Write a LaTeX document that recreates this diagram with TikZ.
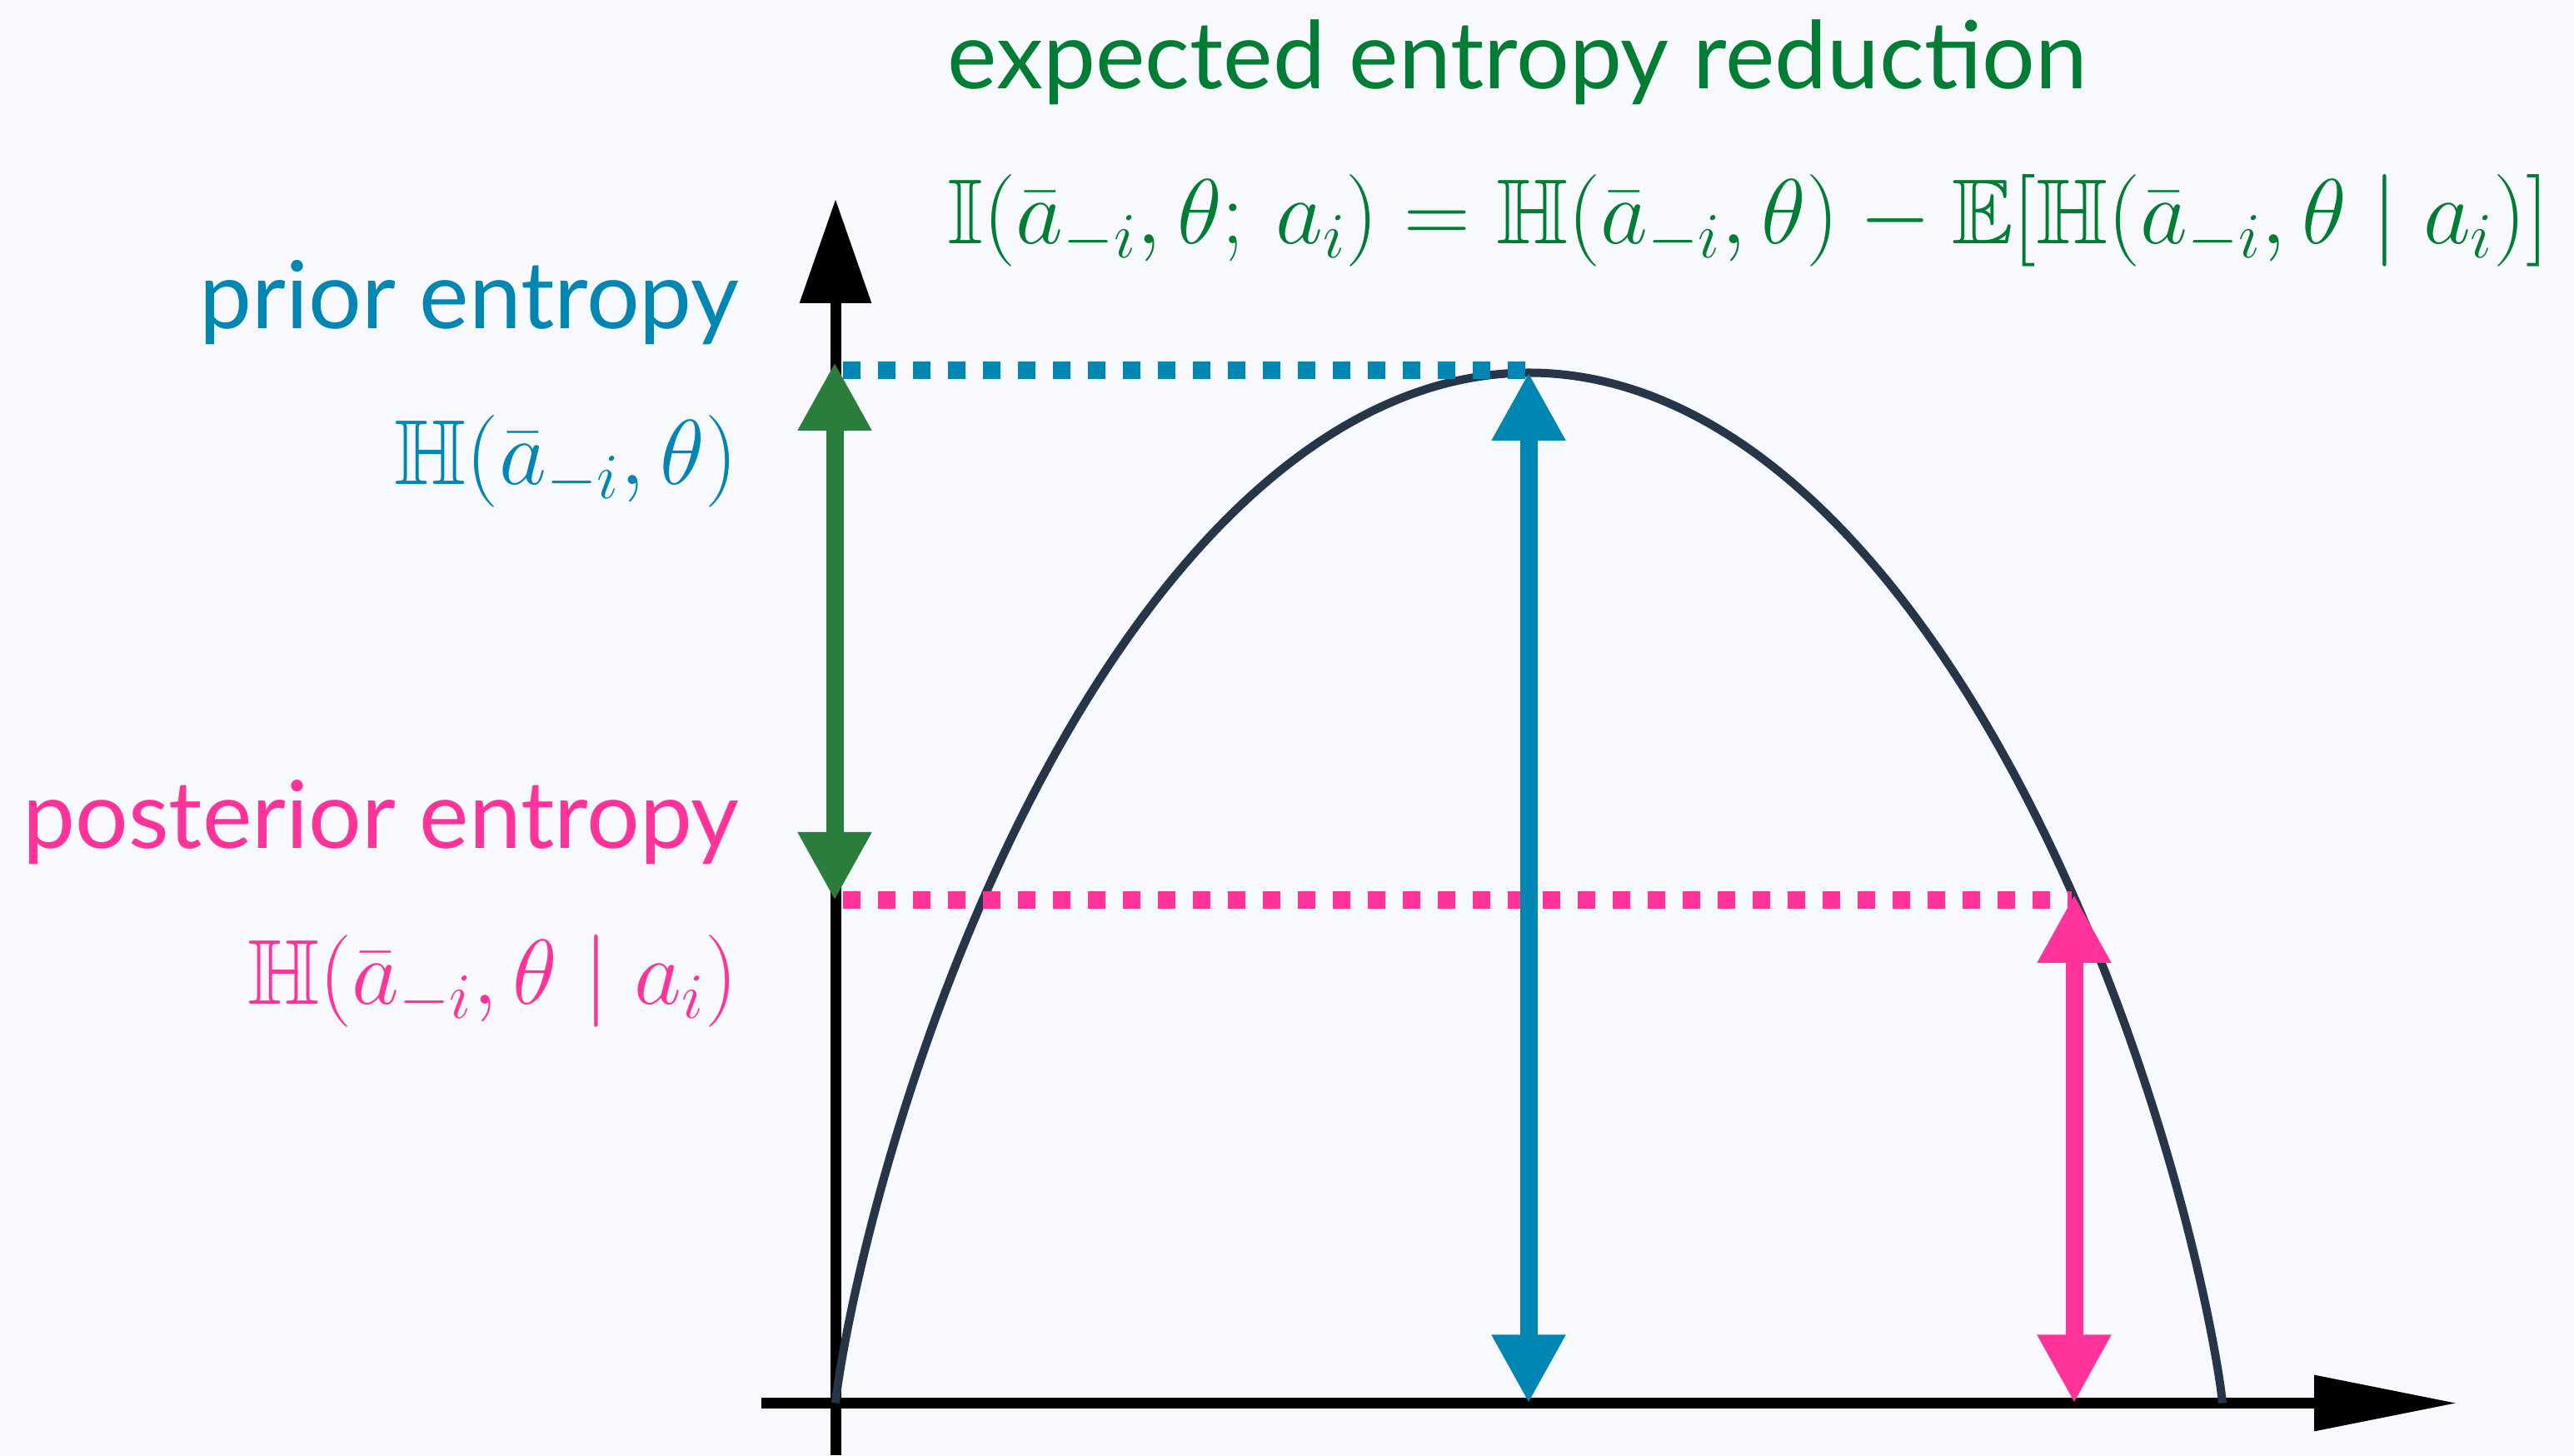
\RequirePackage{fix-cm}
\documentclass[tikz,border=0pt]{standalone}
\usepackage{amsmath,amssymb}
\usepackage{fontspec}
\setsansfont{Lato}
\usetikzlibrary{arrows.meta}
\definecolor{Canvas}{HTML}{F7F9FE}
\definecolor{Ink}{HTML}{000000}
\definecolor{Curve}{HTML}{263548}
\definecolor{GainText}{HTML}{007D34}
\definecolor{GainArrow}{HTML}{2A7D3A}
\definecolor{Prior}{HTML}{0086B3}
\definecolor{Post}{HTML}{FF3399}
% binary entropy curve, points computed with l3fp
\xdef\entpath{(10.03,0.625)}
\foreach \i in {1,...,359}{\edef\q{\fpeval{(1-cosd(\i/2))/2}}\xdef\entpath{\entpath -- (\fpeval{round(10.03+16.65*\q,4)},\fpeval{round(0.625+12.37*(-(\q*ln(\q)+(1-\q)*ln(1-\q))/ln(2)),4)})}}
\xdef\entpath{\entpath -- (26.68,0.625)}
\begin{document}
\begin{tikzpicture}[font=\sffamily\fontsize{32}{36}\selectfont,label/.style={inner sep=0pt},formula/.style={inner sep=0pt, font=\fontsize{31.5}{36}\selectfont},axis/.style={draw=Ink, line width=0.13cm},level/.style={line width=0.21cm, dash pattern=on 0.21cm off 0.21cm},gap/.style={line width=0.21cm,{Triangle[length=0.82cm,width=0.83cm]}-{Triangle[length=0.82cm,width=0.83cm]}}]
\fill[Canvas] (0,0) rectangle (30.9,17.47);
\useasboundingbox (0,0) rectangle (30.9,17.47);
% axes
\coordinate (O) at (10.03,0.625);
\coordinate (xl) at (9.14,0.625); \coordinate (xr) at (29.50,0.625);
\coordinate (yb) at (10.03,0); \coordinate (yt) at (10.03,15.08);
\draw[axis, -{Triangle[length=1.72cm,width=0.64cm]}] (xl) -- (xr);
\draw[axis, -{Triangle[length=1.25cm,width=0.83cm]}] (yb) -- (yt);
% entropy curve
\edef\entdraw{\noexpand\draw[Curve, line width=0.1cm, line join=round] \entpath;}\entdraw
% levels
\coordinate (peak) at (18.35,13.0); \coordinate (peakfoot) at (18.35,0.625);
\coordinate (priorstart) at (10.12,13.02); \coordinate (priorend) at (18.36,13.02);
\coordinate (poststart) at (10.12,6.66); \coordinate (postend) at (24.87,6.66);
\coordinate (postcut) at (24.90,6.73); \coordinate (postfoot) at (24.90,0.625);
\coordinate (gaptop) at (10.02,13.12); \coordinate (gapbot) at (10.02,6.66);
\draw[level, Prior] (priorstart) -- (priorend);
\draw[level, Post] (poststart) -- (postend);
\draw[gap, Prior] (peak) -- (peakfoot);
\draw[gap, Post] (postcut) -- (postfoot);
\draw[gap, GainArrow] (gaptop) -- (gapbot);
% labels
\node[label, anchor=base west, text=GainText] (title) at (11.37,16.40) {expected entropy reduction};
\node[formula, anchor=base west, text=GainText] (mi) at (11.37,14.54) {$\mathbb{I}(\bar{a}_{-i},\theta;\,a_i)=\mathbb{H}(\bar{a}_{-i},\theta)-\mathbb{E}[\mathbb{H}(\bar{a}_{-i},\theta\mid a_i)]$};
\node[label, anchor=base east, text=Prior] (priorname) at (8.88,13.52) {prior entropy};
\node[formula, anchor=base east, text=Prior] (priorH) at (8.86,11.65) {$\mathbb{H}(\bar{a}_{-i},\theta)$};
\node[label, anchor=base east, text=Post] (postname) at (8.88,7.28) {posterior entropy};
\node[formula, anchor=base east, text=Post] (postH) at (8.86,5.41) {$\mathbb{H}(\bar{a}_{-i},\theta\mid a_i)$};
\end{tikzpicture}
\end{document}
